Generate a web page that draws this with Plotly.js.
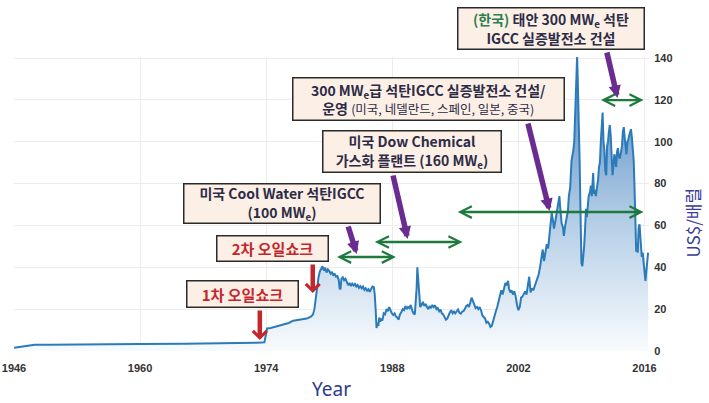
<!DOCTYPE html>
<html>
<head>
<meta charset="utf-8">
<script src="https://cdn.plot.ly/plotly-3.0.1.min.js"></script>
<style>html,body{margin:0;padding:0;background:#fff;}#chart{width:709px;height:403px;}</style>
</head>
<body>
<div id="chart"></div>
<script>
// ---- data ----
const years = [1946.0,1946.6,1947.3,1948.0,1948.3,1950.0,1953.5,1957.0,1960.0,1965.0,1969.0,1971.0,1973.0,1973.8,
1974.0,1974.1,1974.5,1975.0,1975.5,1976.0,1976.5,1977.0,1977.5,1978.0,1978.5,
1979.0,1979.2,1979.35,1979.5,1979.65,1979.8,1979.95,1980.1,1980.25,1980.4,1980.55,1980.7,1980.85,1981.0,1981.15,1981.3,
1981.45,1981.6,1981.75,1981.9,1982.05,1982.15,1982.25,1982.35,1982.5,1982.65,1982.8,1982.95,1983.1,1983.25,1983.4,1983.55,
1983.7,1983.85,1984.0,1984.15,1984.3,1984.45,1984.6,1984.75,1984.9,1985.05,1985.2,1985.35,1985.5,1985.65,1985.8,1985.95,
1986.05,1986.15,1986.25,1986.35,1986.45,1986.55,1986.65,1986.75,1986.9,1987.05,1987.2,1987.35,1987.5,1987.65,1987.8,1987.95,
1988.1,1988.25,1988.4,1988.55,1988.7,1988.85,1989.0,1989.15,1989.3,1989.45,1989.6,1989.75,1989.9,1990.05,1990.2,1990.35,
1990.5,1990.6,1990.7,1990.78,1990.9,1991.0,1991.1,1991.25,1991.4,1991.55,1991.7,1991.85,1992.0,1992.15,1992.3,1992.45,
1992.6,1992.75,1992.9,1993.05,1993.2,1993.35,1993.5,1993.65,1993.8,1993.95,1994.1,1994.25,1994.4,1994.55,1994.7,1994.85,
1995.0,1995.15,1995.3,1995.45,1995.6,1995.75,1995.9,1996.05,1996.2,1996.35,1996.5,1996.65,1996.8,1996.95,1997.1,1997.25,
1997.4,1997.55,1997.7,1997.85,1998.0,1998.15,1998.3,1998.45,1998.6,1998.75,1998.9,1999.05,1999.2,1999.35,1999.5,1999.65,
1999.8,1999.95,2000.1,2000.25,2000.4,2000.55,2000.7,2000.85,2000.95,2001.1,2001.25,2001.4,2001.55,2001.7,2001.85,2002.0,
2002.15,2002.3,2002.45,2002.6,2002.75,2002.9,2003.05,2003.2,2003.35,2003.5,2003.65,2003.8,2003.95,2004.1,2004.25,2004.4,
2004.55,2004.7,2004.85,2005.0,2005.15,2005.3,2005.45,2005.6,2005.7,2005.85,2005.95,2006.1,2006.25,2006.4,2006.55,2006.65,
2006.8,2006.95,2007.05,2007.2,2007.35,2007.5,2007.6,2007.75,2007.9,2008.0,2008.1,2008.2,2008.3,2008.38,2008.45,2008.52,
2008.6,2008.7,2008.8,2008.9,2009.0,2009.1,2009.2,2009.3,2009.4,2009.5,2009.6,2009.7,2009.8,2009.95,2010.05,2010.15,
2010.3,2010.4,2010.5,2010.6,2010.75,2010.85,2010.95,2011.05,2011.15,2011.25,2011.35,2011.45,2011.55,2011.65,2011.75,2011.85,
2011.95,2012.05,2012.15,2012.25,2012.35,2012.45,2012.55,2012.65,2012.75,2012.85,2012.95,2013.05,2013.15,2013.25,2013.35,2013.5,
2013.6,2013.7,2013.8,2013.9,2014.0,2014.1,2014.2,2014.3,2014.4,2014.5,2014.6,2014.7,2014.8,2014.88,2014.95,2015.02,
2015.08,2015.15,2015.25,2015.35,2015.45,2015.55,2015.62,2015.7,2015.8,2015.88,2015.95,2016.02,2016.1,2016.2,2016.3,2016.4];
const prices = [1.6,1.9,2.4,2.9,3.0,3.0,3.2,3.4,3.4,3.5,3.6,3.8,4.0,4.2,
8.0,10.8,11.0,11.5,12.2,12.8,13.4,14.5,14.8,15.0,15.5,
16.5,17.5,20,25,31,35,38,39.5,40.5,38.5,39.8,37.5,39,38.2,37,37.8,
36,37,35.5,35.8,34,30,29.5,34.5,35.2,33.8,34.5,33,31.5,32.5,31,32.2,
31.3,32,30.8,31.5,30.2,31,30,30.8,29.2,30,28.8,29.5,28.3,29.6,30.8,30.5,
27,20,11,13.5,12,16,14,15.5,14.5,18,17.5,20,19,21,19,18,
17.2,18,16.5,16,15,17.5,18.5,20,19.5,21.5,20,21,20.5,22,19.5,18,
17.5,22,30,40,34,27,21,22,23.5,21.5,22.5,21,20,21.5,20.5,22,
21,21.8,20,20.5,19,19.8,18,17.5,16,15,15.5,17.5,18.5,19.5,18,18.8,
18,19,19.8,18.2,17.8,18.8,19,20,21.5,22,21,23,25.5,24,22.5,20.5,
21,20,21,19.5,17,16,15.5,13.5,14,13,11.5,12,14.5,17.5,19,21,
23.5,25.5,29,27,30,32.5,31.5,33.5,30,28,29,27,28.5,26,22,19.5,
21,25.5,26,27,28.5,27,32,35.5,28,30,29,31,33,34.5,36.5,40,
44,48.5,43,46.5,51,49,56,60,66,62,58.5,62,66,70.5,74,68,
61,59,55,60,64,67,74,78,91,93,96,100,111,124,130,141,
128,112,90,65,42,40.5,45,50,58,68,64,70,74,76,79,74,
85,75,77,74,78,82,88,90,100,106,114,100,96,86,84,98,
100,105,108,103,94,84,88,94,92,88,95,97,93,92,94,98,
105,107,102,96,94,100,101,103,105,106,102,97,91,80,70,56,
47.5,50,47,59,60.5,54,48,45,47,43,42,37,33.5,38,42,47];
const xTickVals = [1946,1960,1974,1988,2002,2016];
const yTickVals = [0,20,40,60,80,100,120,140];
const periods = [ // green double arrows: [startYear, endYear, level]
  [1981.7,1988.4,44.9],
  [1985.9,1995.8,52.1],
  [1995.1,2015.9,66.4],
  [2011.0,2015.9,119.9]
];

// ---- geometry helpers (plot area in pixels) ----
const PL=14, PR=649.5, PT=57, PB=351;
const W=709, H=403;
function px(x){return (x-PL)/(PR-PL);}
function py(y){return (PB-y)/(PB-PT);}

const KR = '"Noto Sans CJK KR", "Noto Sans", sans-serif';
const boxBg = '#fcefe6', boxBorder = '#2a2a2a', textDark = '#2c2c46';
const red = '#c3262c', purple = '#6a2c90', green = '#1e7a3c';

function box(cx, cy, w, h, text, color, size){
  return {xref:'paper', yref:'paper', x:px(cx), y:py(cy), xanchor:'center', yanchor:'middle',
    text:text, showarrow:false, width:w-3, height:h-3, borderpad:0, borderwidth:1.5,
    bordercolor:boxBorder, bgcolor:boxBg, align:'center', valign:'middle',
    font:{family:KR, size:size, color:color}};
}
function arrow(x0,y0,x1,y1,color,width,head,size){
  return {xref:'paper', yref:'paper', x:px(x1), y:py(y1), axref:'pixel', ayref:'pixel',
    ax:x0-x1, ay:y0-y1, text:'', showarrow:true, arrowcolor:color, arrowwidth:width,
    arrowhead:head, arrowsize:size, standoff:0};
}

const annotations = [];
// arrows first
annotations.push(arrow(260,309,260,340,red,4.5,4,0.6));
annotations.push(arrow(313,263,313,293,red,4.5,4,0.6));
annotations.push(arrow(348,225,357,254,purple,5.5,2,0.45));
annotations.push(arrow(393,174,408,239,purple,5.5,2,0.45));
annotations.push(arrow(528,122,550,211,purple,5.5,2,0.45));
annotations.push(arrow(607,51,618,98,purple,5.5,2,0.45));
periods.forEach(p=>{
  annotations.push({xref:'x', yref:'y', axref:'x', ayref:'y', x:p[1], y:p[2], ax:p[0], ay:p[2],
    text:'', showarrow:true, arrowside:'end+start', arrowcolor:green, arrowwidth:2.4,
    arrowhead:5, arrowsize:0.95, startarrowhead:5, startarrowsize:0.95, standoff:0, startstandoff:0});
});
// boxes
annotations.push(box(242.5,294,113,28,'<b>1차 오일쇼크</b>',red,15));
annotations.push(box(272.5,248.5,113,27,'<b>2차 오일쇼크</b>',red,15));
annotations.push(box(282,203.5,198,41,'<b>미국 Cool Water 석탄IGCC<br>(100 MW<sub>e</sub>)</b>',textDark,14));
annotations.push(box(412,151.5,180,43,'<b>미국 Dow Chemical<br>가스화 플랜트 (160 MW<sub>e</sub>)</b>',textDark,14));
annotations.push(box(428.5,99,273,44,'<b>300 MW<sub>e</sub>급 석탄IGCC 실증발전소 건설/<br>운영</b> <span style="font-size:12.5px">(미국, 네델란드, 스페인, 일본, 중국)</span>',textDark,14));
annotations.push(box(551,28.5,188,43,'<b><span style="color:#2e7d4f">(한국)</span> 태안 300 MW<sub>e</sub> 석탄<br>IGCC 실증발전소 건설</b>',textDark,14));
// y-axis title (right side)
annotations.push({xref:'paper', yref:'paper', x:px(693), y:py(222), xanchor:'center', yanchor:'middle',
  text:'US$/배럴', textangle:-90, showarrow:false, font:{family:KR, size:17, color:'#3b3b98'}});

const trace = {
  type:'scatter', mode:'lines', x:years, y:prices,
  line:{color:'#2b7bba', width:2},
  fill:'tozeroy',
  fillgradient:{type:'vertical', start:0, stop:140,
    colorscale:[[0,'#f8fbfd'],[0.45,'#b3cde6'],[1,'#4c84bf']]},
  hoverinfo:'skip'
};

const layout = {
  width:W, height:H,
  margin:{l:PL, r:W-PR, t:PT, b:H-PB},
  paper_bgcolor:'#ffffff', plot_bgcolor:'#ffffff',
  showlegend:false,
  xaxis:{range:[1946,2016.5], tickvals:xTickVals, ticktext:xTickVals.map(String),
    showgrid:true, gridcolor:'#ececec', gridwidth:1, zeroline:false, showline:false,
    ticks:'outside', ticklen:7, tickcolor:'rgba(0,0,0,0)',
    tickfont:{family:'"Liberation Sans", Arial, sans-serif', size:11, color:'#333', weight:'bold'},
    title:{text:'Year', font:{family:'"Noto Sans", sans-serif', size:19, color:'#2d3a8c'}, standoff:9}},
  yaxis:{range:[0,140.5], side:'right', tickvals:yTickVals, ticktext:yTickVals.map(String),
    showgrid:true, gridcolor:'#ececec', gridwidth:1, zeroline:false, showline:false,
    ticks:'outside', ticklen:2, tickcolor:'rgba(0,0,0,0)',
    tickfont:{family:'"Liberation Sans", Arial, sans-serif', size:11, color:'#333', weight:'bold'}},
  annotations:annotations
};

Plotly.newPlot('chart',[trace],layout,{staticPlot:true, displayModeBar:false});
</script>
</body>
</html>
